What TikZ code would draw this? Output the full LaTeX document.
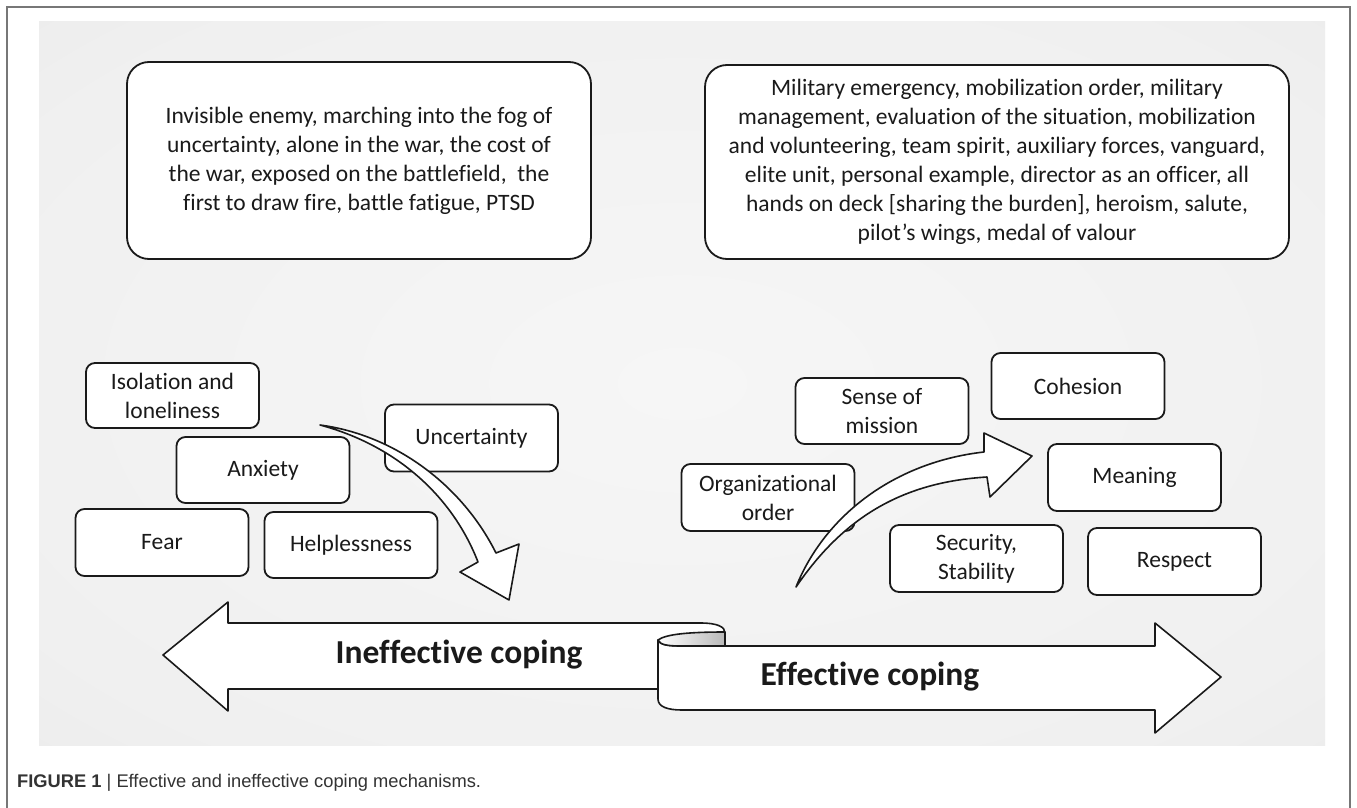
\documentclass[tikz,border=0pt]{standalone}
\usepackage{fontspec}
\setmainfont{Carlito}[Ligatures={NoCommon,NoContextual,NoRequired}]
\newfontfamily\capfont{Liberation Sans}[Ligatures=NoCommon]
\definecolor{ink}{HTML}{1A1A1A}
\definecolor{bga}{HTML}{F6F6F6}
\definecolor{bgb}{HTML}{F0F0F0}
\definecolor{bgc}{HTML}{E6E6E6}
\definecolor{bgd}{HTML}{DADADA}
\definecolor{framec}{HTML}{777777}
\pgfdeclareradialshading{panelshade}{\pgfpoint{0bp}{0bp}}{color(0bp)=(bga); color(30bp)=(bgb); color(50bp)=(bgc); color(72bp)=(bgd)}
\begin{document}
\begin{tikzpicture}[x=1pt,y=-1pt,
  txt/.style={font=\fontsize{23.5}{29}\selectfont, text=ink, align=center},
  bigbox/.style={txt, draw=ink, line width=1.8pt, rounded corners=22pt, fill=white, inner sep=0pt},
  smallbox/.style={txt, draw=ink, line width=1.8pt, rounded corners=9pt, fill=white,
     minimum width=173pt, minimum height=67pt, inner sep=0pt},
  shapeline/.style={draw=ink, line width=1.6pt, fill=white, line join=round},
  bandtxt/.style={font=\fontsize{33.5}{36}\selectfont\bfseries, text=ink}]
\useasboundingbox (0,0) rectangle (1357,808);
\fill[white] (0,0) rectangle (1357,808);
% background panel
\shade[shading=panelshade] (39,22) rectangle (1325,745);
% frame
\draw[framec, line width=1.5pt] (7,808) -- (7,7) -- (1350,7) -- (1350,808);

% top boxes
\node[bigbox, minimum width=464pt, minimum height=197pt] (tl) at (359,160.5)
  {Invisible enemy, marching into the fog of\\uncertainty, alone in the war, the cost of\\the war, exposed on the battlefield,\ \ the\\first to draw fire, battle fatigue, PTSD};
\node[bigbox, minimum width=584pt, minimum height=194pt] (tr) at (997,162)
  {Military emergency, mobilization order, military\\management, evaluation of the situation, mobilization\\and volunteering, team spirit, auxiliary forces, vanguard,\\elite unit, personal example, director as an officer, all\\hands on deck [sharing the burden], heroism, salute,\\pilot’s wings, medal of valour};

% left small boxes
\node[smallbox, minimum height=65pt] (iso) at (172.5,395.5) {Isolation and\\loneliness};
\node[smallbox] (unc) at (471.5,438) {Uncertainty};
\node[smallbox, minimum height=66pt] (anx) at (263,470) {Anxiety};
\node[smallbox] (fear) at (162,542.5) {Fear};
\node[smallbox, minimum height=66pt] (help) at (351,545) {Helplessness};

% right small boxes
\node[smallbox, minimum height=66pt] (sense) at (882,411) {Sense of\\mission};
\node[smallbox, minimum height=66pt] (coh) at (1078,386) {Cohesion};
\node[smallbox] (org) at (768,497.5) {Organizational\\order};
\node[smallbox] (mean) at (1134.5,477.5) {Meaning};
\node[smallbox] (sec) at (976.5,558.5) {Security,\\Stability};
\node[smallbox] (resp) at (1174.5,561.5) {Respect};

% curved arrow (ineffective)
\path[shapeline] (320,425) .. controls (395,435) and (462,485) .. (496,553)
  -- (519,544) -- (509,600) -- (460,572) -- (478,562)
  .. controls (452,495) and (395,445) .. (320,425) -- cycle;

% curved arrow (effective)
\path[shapeline] (796,587) .. controls (825,515) and (895,462) .. (984,452)
  -- (984,433) -- (1032,456) -- (990,497) -- (987,477)
  .. controls (905,482) and (845,515) .. (796,587) -- cycle;

% back band: ineffective coping
\path[shapeline] (658,689) -- (228,689) -- (228,711) -- (163,655) -- (228,602)
  -- (228,623) -- (700,623) .. controls (718,623) and (725,627) .. (725,633)
  -- (725,646) -- (682,646) -- (658,689) -- cycle;
% front band: effective coping
\path[shapeline] (658,640) .. controls (660,645) and (668,646) .. (682,646)
  -- (1155,646) -- (1155,623) -- (1221,677) -- (1155,733) -- (1155,710)
  -- (682,710) .. controls (668,710) and (658,707) .. (658,699) -- cycle;
% rolled cap
\shade[left color=white, right color=gray!55] (658,640) .. controls (666,634) and (690,632) .. (725,632)
  -- (725,646) -- (682,646) .. controls (668,646) and (660,645) .. (658,640) -- cycle;
\draw[ink, line width=1.6pt, line join=round] (658,640) .. controls (666,634) and (690,632) .. (725,632)
  -- (725,646) -- (682,646) .. controls (668,646) and (660,645) .. (658,640) -- cycle;

\node[bandtxt] (ineff) at (459,655) {Ineffective coping};
\node[bandtxt] (eff) at (870,677) {Effective coping};

% caption
\node[anchor=west, inner sep=0pt, font=\capfont\fontsize{18.3}{20}\selectfont, text=black!80] (cap) at (17,783)
  {\textbf{FIGURE 1} | Effective and ineffective coping mechanisms.};
\end{tikzpicture}
\end{document}
